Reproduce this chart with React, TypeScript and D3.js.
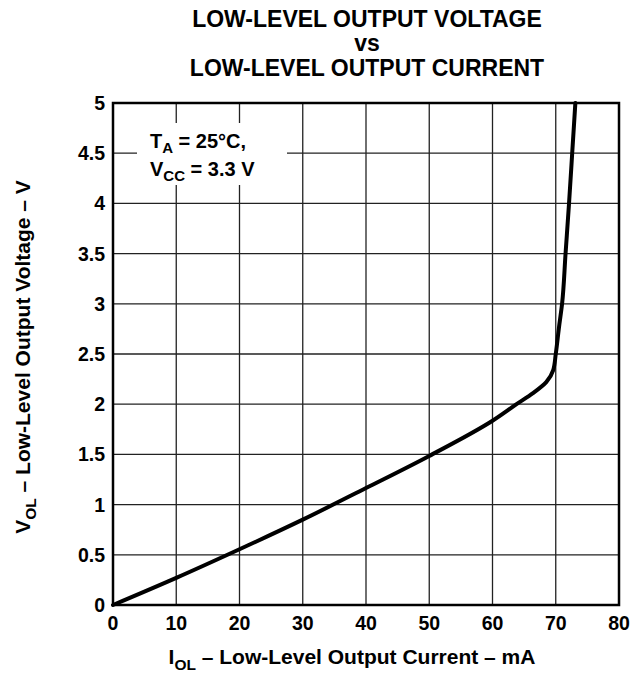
import React from "react";
import * as d3 from "d3";

// IOL (mA) vs VOL (V), TA = 25°C, VCC = 3.3 V
const currentMA = [0, 10, 20, 30, 40, 50, 60, 63.8, 66.4, 68.5, 69.6, 70, 70.5, 71.0, 71.55, 72.1, 72.6, 73.1];
const voltageV = [0, 0.27, 0.555, 0.85, 1.165, 1.485, 1.835, 2.0, 2.11, 2.22, 2.34, 2.5, 2.76, 3.0, 3.5, 4.0, 4.5, 5.0];

const xTicks = [0, 10, 20, 30, 40, 50, 60, 70, 80];
const yTicks = [0, 0.5, 1, 1.5, 2, 2.5, 3, 3.5, 4, 4.5, 5];

const titleLines = ["LOW-LEVEL OUTPUT VOLTAGE", "vs", "LOW-LEVEL OUTPUT CURRENT"];

export default function App() {
  const width = 644;
  const height = 675;
  const left = 113;
  const right = 619;
  const top = 103;
  const bottom = 605;

  const x = d3.scaleLinear().domain([0, 80]).range([left, right]);
  const y = d3.scaleLinear().domain([0, 5]).range([bottom, top]);

  const points = currentMA.map((c, i) => [c, voltageV[i]] as [number, number]);
  const line = d3
    .line<[number, number]>()
    .x((d) => x(d[0]))
    .y((d) => y(d[1]))
    .curve(d3.curveMonotoneY);

  const font = "'Liberation Sans', Arial, Helvetica, sans-serif";

  return (
    <svg
      width={width}
      height={height}
      style={{ position: "absolute", left: 0, top: 0, background: "#fff" }}
      fontFamily={font}
      fontWeight="bold"
    >
      {/* title */}
      {titleLines.map((t, i) => (
        <text key={i} x={(left + right) / 2 + 1} y={26.5 + i * 24.5} textAnchor="middle" fontSize={23}>
          {t}
        </text>
      ))}

      {/* grid */}
      {xTicks.slice(1, -1).map((t) => (
        <line key={"gx" + t} x1={x(t)} x2={x(t)} y1={top} y2={bottom} stroke="#222" strokeWidth={1.3} />
      ))}
      {yTicks.slice(1, -1).map((t) => (
        <line key={"gy" + t} x1={left} x2={right} y1={y(t)} y2={y(t)} stroke="#222" strokeWidth={1.3} />
      ))}

      {/* legend box blanks out grid */}
      <rect x={137} y={123} width={150} height={62} fill="#fff" />
      <text x={150} y={148} fontSize={20}>
        T<tspan fontSize={15} dy={5}>A</tspan>
        <tspan dy={-5}> = 25°C,</tspan>
      </text>
      <text x={150} y={176} fontSize={20}>
        V<tspan fontSize={15} dy={5}>CC</tspan>
        <tspan dy={-5}> = 3.3 V</tspan>
      </text>

      {/* curve */}
      <path
        d={line(points) || ""}
        fill="none"
        stroke="#000"
        strokeWidth={4}
        strokeLinejoin="round"
        strokeLinecap="round"
      />

      {/* frame */}
      <rect x={left} y={top} width={right - left} height={bottom - top} fill="none" stroke="#000" strokeWidth={2.5} />

      {/* x tick labels */}
      {xTicks.map((t) => (
        <text key={"xt" + t} x={x(t)} y={bottom + 25} textAnchor="middle" fontSize={19.5}>
          {t}
        </text>
      ))}
      {/* y tick labels */}
      {yTicks.map((t) => (
        <text key={"yt" + t} x={left - 8} y={y(t) + 7} textAnchor="end" fontSize={19.5}>
          {t}
        </text>
      ))}

      {/* axis titles */}
      <text x={(left + right) / 2 - 14} y={664} textAnchor="middle" fontSize={21}>
        I<tspan fontSize={15.5} dy={6}>OL</tspan>
        <tspan dy={-6}> – Low-Level Output Current – mA</tspan>
      </text>
      <text
        transform={`translate(30, ${(top + bottom) / 2 + 3}) rotate(-90)`}
        textAnchor="middle"
        fontSize={21}
      >
        V<tspan fontSize={15.5} dy={6}>OL</tspan>
        <tspan dy={-6}> – Low-Level Output Voltage – V</tspan>
      </text>
    </svg>
  );
}
